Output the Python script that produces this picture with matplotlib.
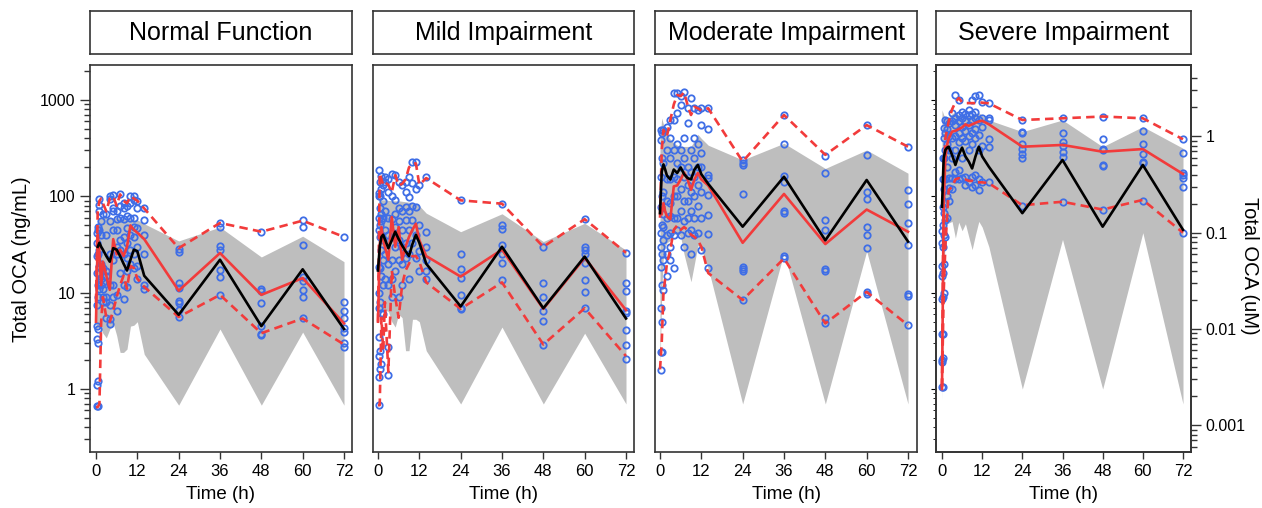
import numpy as np
import matplotlib
matplotlib.use("Agg")
import matplotlib.pyplot as plt
from matplotlib.ticker import FixedLocator, NullFormatter

plt.rcParams["font.family"] = ["Liberation Sans", "DejaVu Sans"]

# ---------------- data (ng/mL) ----------------
panel_titles = ["Normal Function", "Mild Impairment", "Moderate Impairment", "Severe Impairment"]

times = [0, 0.5, 1, 1.5, 2, 3, 4, 5, 6, 7, 8, 9, 10, 11, 12, 14, 24, 36, 48, 60, 72]
x_ticks = [0, 12, 24, 36, 48, 60, 72]

mw_oca = 420.6  # ng/mL per uM

# Normal function
normal_band_lo = [4.2, 4.3, 4.4, 4.2, 3.8, 3.4, 4.2, 4.8, 3.6, 2.4, 2.4, 2.6, 4.5, 4.6, 5.0, 2.3, 0.68, 4.2, 0.68, 3.9, 0.68]
normal_band_hi = [45, 55, 60, 61, 62, 61, 59, 60, 60, 60, 59, 58, 58, 57, 57, 52, 34.5, 48, 23.5, 38.6, 21]
normal_sim_med = [np.nan, 30, 33, 30, 28, 24, 21, 29, 28, 24, 20, 17, 22, 28, 27, 15, 5.9, 22, 4.5, 17.5, 4.2]
normal_obs_med = [5, 40, 26, 12, 21, 15, 10.7, 36, 25, 28, 24, 30, 50, 45, 42, 36, 10.5, 25.8, 9.5, 14.2, 4.8]
normal_obs_p05 = [0.65, 0.65, 0.7, 5, 9, 5.5, 5, 6.5, 9, 12, 15, 11, 19, 18, 14, 11.5, 5.6, 9.5, 3.8, 5.4, 2.9]
normal_obs_p95 = [8, 70, 90, 95, 85, 70, 95, 100, 80, 105, 90, 85, 100, 95, 90, 75, 29, 53, 43, 56, 38]
normal_obs = [
    (0.25, [1.1, 0.67, 3.3, 4.5, 7.5, 16, 24, 33, 42]),
    (0.5, [0.67, 1.2, 3.0, 4.2, 9, 12, 25, 45, 48]),
    (1, [70, 81, 95, 11, 13, 19, 28, 45, 16]),
    (1.5, [40, 55, 12, 14, 20]),
    (2, [66, 18, 13, 11, 9, 8]),
    (3, [65, 40, 17, 15, 8, 5.5, 9]),
    (4, [100, 95, 55, 25, 12, 7.5, 4.7, 5.3]),
    (5, [103, 75, 70, 45, 22, 12, 9]),
    (6, [70, 58, 45, 30, 25, 9.5, 6.5]),
    (7, [105, 80, 60, 35, 28, 16]),
    (8, [85, 75, 58, 38, 25, 12, 8.7]),
    (9, [80, 63, 47, 33, 23, 17, 11.5]),
    (10, [100, 85, 60, 40, 28, 20]),
    (11, [100, 92, 60, 48, 38, 25, 18]),
    (12, [90, 75, 47, 30, 19, 14]),
    (14, [75, 57, 40, 25, 12, 11]),
    (24, [28.6, 26.5, 12.5, 11.1, 8.3, 7.9, 6.6, 5.6]),
    (36, [52.6, 48, 30.5, 27.7, 17.2, 14.7, 9.5]),
    (48, [42.7, 11, 10.5, 7.8, 4.5, 3.7, 3.6]),
    (60, [57, 48.4, 31.3, 14.7, 13.3, 10.7, 9, 5.4]),
    (72, [37.6, 8.1, 6.4, 5.4, 4.3, 3.9, 3.0, 2.7]),
]

# Mild impairment
mild_band_lo = [6.6, 6.6, 6.6, 6.6, 6.6, 6.4, 5.0, 4.4, 6.0, 5.5, 2.5, 2.5, 5.3, 5.3, 5.0, 2.5, 0.7, 4.4, 0.7, 3.8, 0.7]
mild_band_hi = [85, 90, 92, 92, 92, 91, 90, 90, 90, 89, 88, 87, 86, 84, 80, 67, 43, 66, 34, 52.6, 27.7]
mild_sim_med = [17, 30, 38, 40, 36, 29, 35, 43, 36, 31, 27, 24, 32, 40, 33, 20, 7.2, 30, 6.9, 23.7, 5.4]
mild_obs_med = [5, 30, 48, 35, 30, 22, 61, 30, 48, 22, 30, 38, 45, 52, 35, 24, 14.7, 28, 6.8, 23, 6.6]
mild_obs_p05 = [0.68, 0.68, 5.5, 2.5, 8, 1.5, 17, 9, 5.5, 12, 17, 20, 24, 24, 21, 12.8, 6.8, 12.8, 2.9, 6.9, 2.2]
mild_obs_p95 = [5, 174, 150, 132, 140, 132, 110, 166, 130, 135, 150, 200, 220, 220, 132, 155, 91, 84, 30, 58, 26]
mild_obs = [
    (0.25, [188, 108, 100, 60, 45, 18.5, 10, 7, 3.5, 2.2, 1.33, 0.68]),
    (0.5, [142, 100, 75, 50, 38, 18, 8, 2.5, 1.6]),
    (1, [163, 120, 65, 55, 40, 28, 15, 6.1, 1.8]),
    (1.5, [130, 90, 60, 35, 22, 12, 6]),
    (2, [160, 140, 70, 45, 25, 14]),
    (3, [150, 111, 60, 40, 20, 12, 2.75, 1.4]),
    (4, [170, 100, 58, 38, 22, 14, 9]),
    (5, [165, 92, 65, 48, 30, 17]),
    (6, [140, 75, 55, 35, 22, 9]),
    (7, [130, 70, 45, 30, 20, 12]),
    (8, [140, 110, 77, 57, 33, 23]),
    (9, [160, 98, 70, 45, 25, 14]),
    (10, [228, 137, 80, 57, 33]),
    (11, [225, 120, 77, 40, 23]),
    (12, [130, 50, 27, 17]),
    (14, [160, 43, 30, 22, 17, 14]),
    (24, [91, 25, 17.5, 14.1, 9.5, 6.9, 6.7]),
    (36, [84, 50.5, 45.5, 31.3, 25, 20.2, 13.5]),
    (48, [30, 12.7, 9.1, 6.4, 5.1, 2.9]),
    (60, [58, 30, 27.8, 25, 20.2, 13.5, 10.1, 7]),
    (72, [26, 12.7, 10.5, 6.5, 6.1, 4.1, 2.9, 2.05]),
]

# Moderate impairment
moderate_band_lo = [1.6, 10, 25, 30, 33, 35, 40, 42, 38, 25, 18, 13, 20, 31, 28, 18, 0.7, 26, 0.7, 27, 0.7]
moderate_band_hi = [400, 650, 560, 490, 440, 390, 360, 340, 330, 330, 330, 330, 380, 440, 400, 340, 239, 356, 195, 303, 174]
moderate_sim_med = [67, 180, 215, 190, 165, 150, 190, 175, 200, 170, 155, 150, 190, 212, 170, 135, 48.5, 160, 35, 148, 34]
moderate_obs_med = [78, 65, 85, 70, 62, 58, 127, 130, 150, 177, 150, 117, 150, 175, 150, 130, 33, 106, 32, 73, 43]
moderate_obs_p05 = [1.6, 3, 10, 14, 20, 28, 45, 50, 45, 48, 45, 40, 38, 35, 30, 16, 8.4, 22.7, 4.8, 10.2, 4.6]
moderate_obs_p95 = [60, 300, 490, 450, 420, 620, 900, 1130, 1100, 1200, 890, 700, 850, 820, 780, 822, 230, 700, 270, 550, 328]
moderate_obs = [
    (0.25, [1.57, 2.4, 7, 18.5, 30, 42, 78, 160, 385, 490]),
    (0.5, [2.4, 5, 12, 25, 50, 100, 250, 450]),
    (1, [10.7, 22, 35, 48, 65, 110, 220, 490]),
    (2, [15, 25, 40, 60, 90, 150, 300, 520]),
    (3, [22, 30, 42, 62, 85, 150, 250, 400, 620]),
    (4, [18, 40, 60, 100, 160, 300, 620, 1180]),
    (5, [45, 60, 100, 150, 220, 350, 730, 1180]),
    (6, [40, 70, 120, 200, 300, 890, 1100]),
    (7, [30, 55, 90, 160, 250, 400, 1200]),
    (8, [42, 60, 90, 130, 200, 580, 830]),
    (9, [25, 45, 70, 110, 180, 300, 1050]),
    (10, [40, 60, 100, 160, 250, 400, 830]),
    (11, [42, 80, 130, 200, 350, 790]),
    (12, [27.7, 60, 110, 200, 280, 550, 822]),
    (14, [18, 41, 64, 103, 155, 167, 500, 822]),
    (24, [239, 221, 210, 107, 18.6, 17.6, 17, 8.4]),
    (36, [700, 350, 164, 142, 71, 68, 24, 22.7]),
    (48, [262, 176, 57, 45, 17.5, 17, 5.4, 4.8]),
    (60, [550, 270, 112, 95, 48.5, 40, 29, 10.2, 9.8]),
    (72, [328, 116, 83, 53, 31, 9.7, 9.3, 4.6]),
]

# Severe impairment
severe_band_lo = [0.77, 10, 48, 52, 53, 55, 37, 54, 44, 52, 38, 28, 40, 55, 48, 30, 1.0, 35.8, 1.0, 42, 0.7]
severe_band_hi = [790, 700, 660, 650, 660, 720, 760, 700, 690, 690, 690, 700, 720, 740, 690, 620, 470, 621, 328, 530, 316]
severe_sim_med = [78, 250, 303, 320, 328, 270, 212, 270, 321, 260, 230, 195, 260, 328, 260, 203, 67, 239, 48.5, 212, 45]
severe_obs_med = [1.0, 80, 250, 340, 400, 470, 480, 500, 520, 560, 540, 560, 580, 600, 610, 560, 328, 342, 291, 310, 171]
severe_obs_p05 = [1.06, 10, 30, 60, 117, 125, 150, 155, 150, 150, 145, 145, 140, 140, 140, 137, 81, 88, 73, 92, 42]
severe_obs_p95 = [1.05, 150, 400, 490, 600, 800, 950, 1050, 950, 930, 930, 930, 930, 950, 940, 925, 621, 647, 675, 647, 392]
severe_obs = [
    (0.1, [1.04, 1.9, 2.0, 3.7, 8.6, 15, 19, 33, 44]),
    (0.3, [1.06, 2.1, 3.7, 9, 16, 30, 50, 78, 150, 250]),
    (0.6, [10, 20, 40, 67, 120, 250, 400, 510]),
    (1, [38, 57, 85, 150, 300, 450, 620]),
    (1.5, [60, 100, 200, 350, 500, 600]),
    (2, [90, 122, 155, 300, 420, 580]),
    (3, [120, 155, 250, 400, 600, 730]),
    (4, [150, 180, 300, 420, 550, 650, 1130]),
    (5, [150, 190, 370, 450, 600, 700, 1000]),
    (6, [155, 250, 400, 520, 650, 750]),
    (7, [130, 160, 380, 480, 600, 720]),
    (8, [140, 300, 420, 550, 700, 780]),
    (9, [125, 160, 350, 450, 600, 720, 1000]),
    (10, [130, 165, 400, 500, 650, 750, 1100]),
    (11, [117, 150, 300, 430, 620, 1130]),
    (12, [140, 330, 520, 650, 950]),
    (14, [140, 328, 390, 620, 650, 925]),
    (24, [625, 470, 455, 348, 310, 276, 250, 80]),
    (36, [647, 452, 370, 330, 291, 258, 88]),
    (48, [675, 392, 310, 303, 210, 207, 73]),
    (60, [647, 477, 350, 273, 230, 221, 90]),
    (72, [392, 280, 176, 165, 154, 124, 42]),
]

panels = [
    (normal_band_lo, normal_band_hi, normal_sim_med, normal_obs_med, normal_obs_p05, normal_obs_p95, normal_obs),
    (mild_band_lo, mild_band_hi, mild_sim_med, mild_obs_med, mild_obs_p05, mild_obs_p95, mild_obs),
    (moderate_band_lo, moderate_band_hi, moderate_sim_med, moderate_obs_med, moderate_obs_p05, moderate_obs_p95, moderate_obs),
    (severe_band_lo, severe_band_hi, severe_sim_med, severe_obs_med, severe_obs_p05, severe_obs_p95, severe_obs),
]

# ---------------- layout ----------------
W, H = 1262, 508
fig = plt.figure(figsize=(W / 100, H / 100), dpi=100)


def frac(x0, x1, y0, y1):
    return [x0 / W, 1 - y1 / H, (x1 - x0) / W, (y1 - y0) / H]


box_x = [(90, 352), (373, 634), (655, 917), (936, 1191)]
zero_x = [96, 378, 660, 942]
end_x = [344, 626, 908, 1183]
plot_top, plot_bottom = 65, 452
title_top, title_bottom = 11, 54

ylo, yhi = 0.222, 2313
gray = "#BEBEBE"
red = "#F23B3B"
blue = "#3F6EE6"
edge = "#333333"

for i, (band_lo, band_hi, sim_med, obs_med, p05, p95, obs) in enumerate(panels):
    x0, x1 = box_x[i]
    scale = (end_x[i] - zero_x[i]) / 72.0
    xmin = (x0 - zero_x[i]) / scale
    xmax = (x1 - zero_x[i]) / scale

    ax = fig.add_axes(frac(x0, x1, plot_top, plot_bottom))
    ax.set_yscale("log")
    ax.set_ylim(ylo, yhi)
    ax.set_xlim(xmin, xmax)

    ax.fill_between(times, band_lo, band_hi, color=gray, lw=0, zorder=1)

    obs_t = [t for t, vals in obs for _ in vals]
    obs_v = [v for _, vals in obs for v in vals]
    ax.plot(obs_t, obs_v, "o", mfc="none", mec=blue, ms=4.6, mew=1.3, zorder=3)

    ax.plot(times, p95, color=red, lw=1.9, dashes=(3.2, 2), zorder=4)
    ax.plot(times, p05, color=red, lw=1.9, dashes=(3.2, 2), zorder=4)
    ax.plot(times, obs_med, color=red, lw=1.9, zorder=5)
    ax.plot(times, sim_med, color="black", lw=1.9, zorder=6)

    for sp in ax.spines.values():
        sp.set_color(edge)
        sp.set_linewidth(1.2)

    ax.set_xticks(x_ticks)
    ax.set_xticklabels([str(t) for t in x_ticks])
    ax.tick_params(axis="x", direction="out", length=5, width=1, labelsize=12, pad=4, color=edge)
    ax.set_xlabel("Time (h)", fontsize=13.5, labelpad=5)

    if i == 0:
        ax.yaxis.set_major_locator(FixedLocator([1, 10, 100, 1000]))
        ax.set_yticklabels(["1", "10", "100", "1000"])
        minors = [m * 10.0 ** e for e in range(-1, 4) for m in range(2, 10)]
        minors = [m for m in minors if 0.29 <= m <= 2100]
        ax.yaxis.set_minor_locator(FixedLocator(minors))
        ax.yaxis.set_minor_formatter(NullFormatter())
        ax.tick_params(axis="y", which="major", direction="out", length=7, width=1, labelsize=11.5, color=edge)
        ax.tick_params(axis="y", which="minor", direction="out", length=4, width=1, color=edge)
    else:
        ax.tick_params(axis="y", which="both", left=False, labelleft=False)

    if i == 3:
        axr = ax.twinx()
        axr.set_yscale("log")
        axr.set_ylim(ylo / mw_oca, yhi / mw_oca)
        axr.yaxis.set_major_locator(FixedLocator([0.001, 0.01, 0.1, 1]))
        axr.set_yticklabels(["0.001", "0.01", "0.1", "1"])
        rminors = [m * 10.0 ** e for e in range(-4, 1) for m in range(2, 10)]
        rminors = [m for m in rminors if 0.00059 <= m <= 4.1]
        axr.yaxis.set_minor_locator(FixedLocator(rminors))
        axr.yaxis.set_minor_formatter(NullFormatter())
        axr.tick_params(axis="y", which="major", direction="out", length=7, width=1, labelsize=11.5, color=edge)
        axr.tick_params(axis="y", which="minor", direction="out", length=4, width=1, color=edge)
        for sp in axr.spines.values():
            sp.set_color(edge)
            sp.set_linewidth(1.2)

    tax = fig.add_axes(frac(x0, x1, title_top, title_bottom))
    tax.set_xticks([])
    tax.set_yticks([])
    for sp in tax.spines.values():
        sp.set_color(edge)
        sp.set_linewidth(1.2)
    tax.text(0.5, 0.48, panel_titles[i], ha="center", va="center", fontsize=18, transform=tax.transAxes)

fig.text(22 / W, 1 - 259 / H, "Total OCA (ng/mL)", rotation=90, ha="center", va="center", fontsize=14.5)
fig.text(1250 / W, 1 - 266 / H, "Total OCA (uM)", rotation=-90, ha="center", va="center", fontsize=14.5)

fig.savefig("out.png", dpi=100)
